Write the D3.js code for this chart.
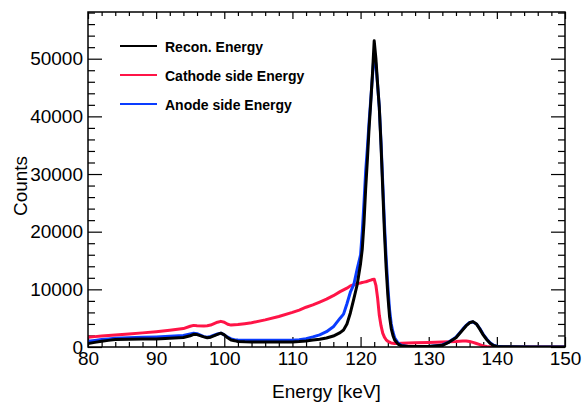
<!DOCTYPE html>
<html>
<head>
<meta charset="utf-8">
<script src="https://cdn.jsdelivr.net/npm/d3@7"></script>
<style>
  body { margin: 0; background: #fff; }
  svg { font-family: "Liberation Sans", Arial, Helvetica, sans-serif; }
  .tick text { font-size: 19px; fill: #000; }
  .tick line { stroke: #000; stroke-width: 1.2; }
</style>
</head>
<body>
<div id="chart"></div>
<script>

// Energy bins (keV) and counts
var energy = [80, 81, 82, 83, 84, 86, 88, 90, 92, 94, 95, 95.5, 96, 97, 97.5, 98, 99, 99.5, 100, 100.5,
  101, 101.5, 102, 103, 104, 106, 108, 110, 111, 112, 113, 114, 115, 116, 117, 117.5, 118, 118.5, 119, 119.5,
  120, 120.25, 120.5, 120.75, 121, 121.25, 121.5, 121.75, 122, 122.25, 122.5, 122.75, 123, 123.25, 123.5, 123.75,
  124, 124.25, 124.5, 124.75, 125, 125.5, 126, 127, 128, 130, 132, 133, 134, 134.5, 135, 135.5, 136, 136.5,
  137, 137.5, 138, 138.5, 139, 139.5, 140, 141, 145, 150];

var recon = [600, 800, 990, 1150, 1300, 1350, 1380, 1400, 1500, 1650, 1950, 2200, 2150, 1750, 1600, 1700, 2200, 2400, 2100, 1600,
  1200, 1100, 950, 900, 880, 850, 850, 880, 950, 1050, 1200, 1330, 1550, 1900, 2500, 2950, 4000, 5900, 8300, 10800,
  14500, 17000, 21500, 27500, 32500, 38000, 42500, 47500, 53100, 50000, 45500, 41500, 35000, 27500, 20000, 13800,
  9000, 5300, 3200, 2000, 1200, 500, 200, 100, 80, 100, 300, 850, 1600, 2300, 3000, 3700, 4200, 4400,
  4000, 3100, 2100, 1300, 650, 250, 100, 30, 10, 0];

var cathode = [1700, 1800, 1900, 2000, 2100, 2250, 2450, 2650, 2900, 3200, 3600, 3750, 3700, 3650, 3700, 3800, 4300, 4450, 4300, 3950,
  3800, 3850, 3900, 4050, 4200, 4700, 5300, 6000, 6400, 6900, 7300, 7800, 8300, 8900, 9600, 9900, 10200, 10600, 10800, 11000,
  11100, 11200, 11250, 11300, 11400, 11500, 11600, 11700, 11750, 10700, 8500, 5500, 3700, 2400, 1700, 1250,
  1000, 850, 700, 650, 600, 600, 650, 700, 750, 800, 850, 900, 950, 1000, 1050, 1050, 950, 800,
  600, 400, 200, 80, 30, 10, 0, 0, 0, 0];

var anode = [1000, 1150, 1300, 1400, 1500, 1620, 1680, 1750, 1850, 2000, 2250, 2370, 2300, 1800, 1700, 1850, 2250, 2400, 2100, 1700,
  1400, 1250, 1200, 1150, 1150, 1150, 1150, 1150, 1250, 1450, 1750, 2100, 2650, 3500, 5000, 5700, 7500, 9500, 10800, 13500,
  16000, 20000, 25000, 30500, 34500, 39000, 43000, 47000, 50900, 49000, 45500, 41500, 35500, 28500, 21500, 15500,
  10500, 6500, 4000, 2600, 1600, 700, 250, 100, 80, 100, 350, 900, 1700, 2400, 3100, 3750, 4250, 4350,
  4000, 3200, 2200, 1400, 750, 300, 120, 30, 10, 0];

var xMajor = [80, 90, 100, 110, 120, 130, 140, 150];
var yMajor = [0, 10000, 20000, 30000, 40000, 50000];

var legendNames = ["Recon. Energy", "Cathode side Energy", "Anode side Energy"];
var legendColors = ["#000000", "#ff1447", "#0a3cff"];

// Frame of the plot, in pixels
var W = 584, H = 405;
var margin = {left: 88, right: 565, top: 12, bottom: 347};

var svg = d3.select("#chart")
  .append("svg")
  .attr("width", W)
  .attr("height", H);

svg.append("rect").attr("width", W).attr("height", H).attr("fill", "#fff");

var x = d3.scaleLinear().domain([80, 150]).range([margin.left, margin.right]);
var y = d3.scaleLinear().domain([0, 58100]).range([margin.bottom, margin.top]);

var xMinor = d3.range(80, 150.01, 2).filter(function(d) { return xMajor.indexOf(d) < 0; });
var yMinor = d3.range(0, 58001, 2000).filter(function(d) { return yMajor.indexOf(d) < 0; });

// Axes: ticks point inward, on all four sides
function addAxis(axis, tx, ty) {
  var g = svg.append("g")
    .attr("transform", "translate(" + tx + "," + ty + ")")
    .call(axis);
  g.select(".domain").remove();
  return g;
}

addAxis(d3.axisBottom(x).tickValues(xMajor).tickSize(-10).tickPadding(5).tickFormat(d3.format("d")), 0, margin.bottom);
addAxis(d3.axisBottom(x).tickValues(xMinor).tickSize(-5).tickFormat(""), 0, margin.bottom);
addAxis(d3.axisTop(x).tickValues(xMajor).tickSize(-7).tickFormat(""), 0, margin.top);
addAxis(d3.axisTop(x).tickValues(xMinor).tickSize(-4).tickFormat(""), 0, margin.top);

addAxis(d3.axisLeft(y).tickValues(yMajor).tickSize(-14).tickPadding(5).tickFormat(d3.format("d")), margin.left, 0);
addAxis(d3.axisLeft(y).tickValues(yMinor).tickSize(-7).tickFormat(""), margin.left, 0);
addAxis(d3.axisRight(y).tickValues(yMajor).tickSize(-14).tickFormat(""), margin.right, 0);
addAxis(d3.axisRight(y).tickValues(yMinor).tickSize(-7).tickFormat(""), margin.right, 0);

// Clip the curves to the frame
svg.append("clipPath").attr("id", "clip")
  .append("rect")
  .attr("x", margin.left).attr("y", margin.top)
  .attr("width", margin.right - margin.left).attr("height", margin.bottom - margin.top);

var line = d3.line()
  .x(function(d) { return x(d[0]); })
  .y(function(d) { return y(d[1]); });

var series = [
  { values: cathode, color: legendColors[1] },
  { values: anode, color: legendColors[2] },
  { values: recon, color: legendColors[0] }
];

series.forEach(function(s) {
  svg.append("path")
    .datum(energy.map(function(e, i) { return [e, s.values[i]]; }))
    .attr("clip-path", "url(#clip)")
    .attr("fill", "none")
    .attr("stroke", s.color)
    .attr("stroke-width", 3)
    .attr("stroke-linejoin", "round")
    .attr("d", line);
});

// Frame
svg.append("rect")
  .attr("x", margin.left).attr("y", margin.top)
  .attr("width", margin.right - margin.left).attr("height", margin.bottom - margin.top)
  .attr("fill", "none")
  .attr("stroke", "#000")
  .attr("stroke-width", 1.5);

// Axis titles
svg.append("text")
  .attr("x", (margin.left + margin.right) / 2)
  .attr("y", 398)
  .attr("text-anchor", "middle")
  .style("font-size", "19px")
  .text("Energy [keV]");

svg.append("text")
  .attr("transform", "translate(27,186) rotate(-90)")
  .attr("text-anchor", "middle")
  .style("font-size", "19px")
  .text("Counts");

// Legend
var legend = svg.append("g");
legendNames.forEach(function(name, i) {
  var ly = 46 + i * 29;
  legend.append("line")
    .attr("x1", 120).attr("x2", 157)
    .attr("y1", ly).attr("y2", ly)
    .attr("stroke", legendColors[i])
    .attr("stroke-width", 2);
  legend.append("text")
    .attr("x", 165).attr("y", ly + 6)
    .style("font-size", "14px")
    .style("font-weight", "bold")
    .text(name);
});

</script>
</body>
</html>
